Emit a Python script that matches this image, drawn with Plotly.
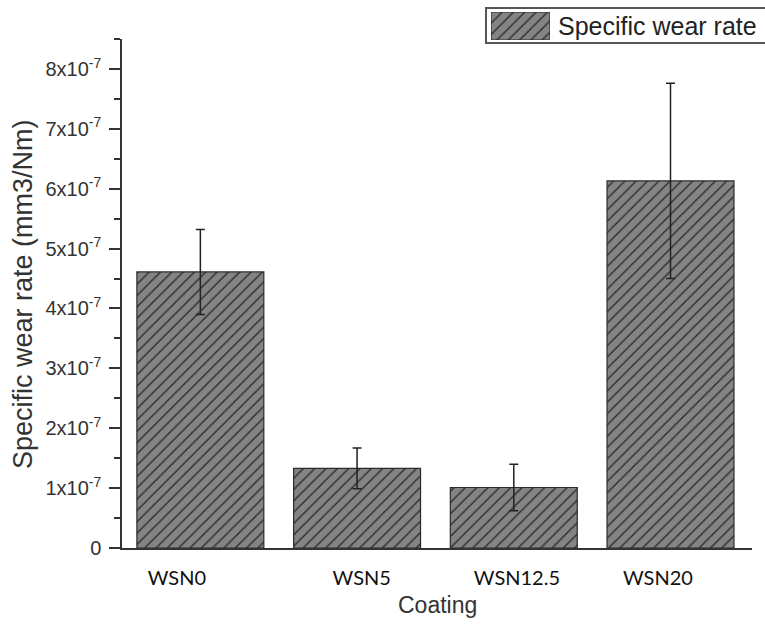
import plotly.graph_objects as go

# ---- data ----
categories = ["WSN0", "WSN5", "WSN12.5", "WSN20"]
wear_rate = [4.61e-7, 1.33e-7, 1.01e-7, 6.13e-7]
wear_err = [0.71e-7, 0.34e-7, 0.39e-7, 1.63e-7]
y_tick_values = [0, 1e-7, 2e-7, 3e-7, 4e-7, 5e-7, 6e-7, 7e-7, 8e-7]
y_tick_labels = ["0"] + [f"{i}x10<sup>-7</sup>" for i in range(1, 9)]
series_name = "Specific wear rate"

# ---- layout helpers ----
W, H = 765, 628
px_x = lambda p: p / W
px_y = lambda p: (H - p) / H
bar_pos = [1, 2, 3, 4]
label_pos = [0.85, 2.03, 3.02, 3.92]   # where the category labels sit

BAR_BG = "#848484"
BAR_FG = "#2b2b2b"
AX = "#333333"
ARIAL = "Liberation Sans, Arial, sans-serif"

pattern = dict(shape="/", size=8, solidity=0.17, fgcolor=BAR_FG, bgcolor=BAR_BG, fillmode="replace")

fig = go.Figure()
fig.add_trace(go.Bar(
    x=bar_pos, y=wear_rate, width=0.81,
    marker=dict(color=BAR_BG, pattern=pattern, line=dict(color=BAR_FG, width=1.2)),
    error_y=dict(type="data", array=wear_err, visible=True, color="#222222", thickness=1.5, width=4.5),
    name=series_name, showlegend=False,
))

# legend swatch on its own small axes
fig.add_trace(go.Bar(
    x=[0], y=[1], width=1, xaxis="x2", yaxis="y2",
    marker=dict(color=BAR_BG, pattern=pattern, line=dict(color=BAR_FG, width=1.2)),
    showlegend=False, hoverinfo="skip",
))

fig.update_layout(
    width=W, height=H,
    margin=dict(l=0, r=0, t=0, b=0, autoexpand=False),
    paper_bgcolor="white", plot_bgcolor="white",
    showlegend=False,
    xaxis=dict(
        domain=[px_x(122), px_x(752)],
        range=[0.5, 4.52], automargin=False,
        tickmode="array", tickvals=label_pos, ticktext=categories,
        ticks="", showgrid=False, zeroline=False,
        showline=True, linecolor=AX, linewidth=1.5,
        tickfont=dict(family="Lato, Open Sans, sans-serif", size=20, color="#111111"),
        ticklabelstandoff=11,
    ),
    yaxis=dict(
        domain=[px_y(548), px_y(39)],
        range=[0, 8.5e-7], automargin=False,
        tickmode="array", tickvals=y_tick_values, ticktext=y_tick_labels,
        ticks="outside", ticklen=11, tickwidth=1.5, tickcolor=AX,
        minor=dict(ticks="outside", ticklen=6, tickwidth=1.5, tickcolor=AX, dtick=0.5e-7, tick0=0),
        showgrid=False, zeroline=False,
        showline=True, linecolor=AX, linewidth=1.5,
        tickfont=dict(family=ARIAL, size=20, color="#333333"),
        ticklabelstandoff=4,
    ),
    xaxis2=dict(domain=[px_x(491), px_x(550)], range=[-0.5, 0.5], visible=False, anchor="y2", automargin=False),
    yaxis2=dict(domain=[px_y(40), px_y(12)], range=[0, 1], visible=False, anchor="x2", automargin=False),
    shapes=[dict(type="rect", xref="paper", yref="paper",
                 x0=px_x(486), x1=px_x(775), y0=px_y(43), y1=px_y(8),
                 line=dict(color="#555555", width=2), fillcolor="rgba(0,0,0,0)", layer="below")],
    annotations=[
        dict(text=series_name, xref="paper", yref="paper", x=px_x(556), y=px_y(26),
             xanchor="left", yanchor="middle", showarrow=False,
             font=dict(family=ARIAL, size=25, color="#222222")),
        dict(text="Coating", xref="paper", yref="paper", x=px_x(437), y=px_y(605),
             xanchor="center", yanchor="middle", showarrow=False,
             font=dict(family=ARIAL, size=23, color="#333333")),
        dict(text="Specific wear rate (mm3/Nm)", xref="paper", yref="paper", x=px_x(23), y=px_y(294),
             xanchor="center", yanchor="middle", textangle=-90, showarrow=False,
             font=dict(family=ARIAL, size=27, color="#333333")),
    ],
)

fig.write_html("out.html")
